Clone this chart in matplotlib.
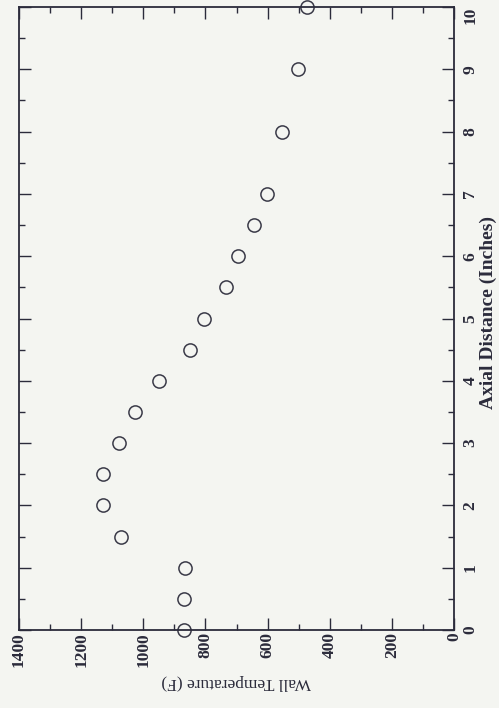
import matplotlib
matplotlib.use("Agg")
import matplotlib.pyplot as plt
from matplotlib.ticker import MultipleLocator

# axial distance (inches) and wall temperature (F)
distance = [0, 0.5, 1, 1.5, 2, 2.5, 3, 3.5, 4, 4.5, 5, 5.5, 6, 6.5, 7, 8, 9, 10]
temperature = [870, 870, 866, 1072, 1130, 1130, 1078, 1027, 949, 850,
               805, 733, 695, 644, 603, 553, 502, 473]

temp_ticks = [1400, 1200, 1000, 800, 600, 400, 200, 0]
dist_ticks = [0, 1, 2, 3, 4, 5, 6, 7, 8, 9, 10]

bg = "#f4f5f1"
ink = "#2b2b3b"

plt.rcParams['font.family'] = ['Liberation Serif', 'DejaVu Serif']

fig = plt.figure(figsize=(4.99, 7.08), dpi=100, facecolor=bg)
ax = fig.add_axes([19 / 499, 78 / 708, 435 / 499, 623 / 708])
ax.set_facecolor(bg)

# the page is turned: temperature runs right-to-left along the bottom,
# distance runs upward on the right
ax.plot(temperature, distance, linestyle='none', marker='o', markersize=9.5,
        markerfacecolor='none', markeredgecolor="#3a3a48", markeredgewidth=1.1,
        clip_on=False)

ax.set_xlim(1400, 0)
ax.set_ylim(0, 10)
ax.set_xticks(temp_ticks)
ax.set_yticks(dist_ticks)
ax.xaxis.set_minor_locator(MultipleLocator(100))
ax.yaxis.set_minor_locator(MultipleLocator(0.5))

ax.yaxis.tick_right()
ax.tick_params(which='both', direction='in', top=True, bottom=True,
               left=True, right=True, color=ink, width=1.0)
ax.tick_params(which='major', length=8.5)
ax.tick_params(which='minor', length=4.5)
ax.tick_params(axis='x', which='major', pad=1.5, labelsize=12.5,
               labelcolor=ink, labelrotation=90)
ax.tick_params(axis='y', which='major', pad=6, labelsize=12.5,
               labelcolor=ink, labelrotation=90)
for lab in ax.get_xticklabels():
    lab.set_fontweight('bold')
    lab.set_va('top')
for lab in ax.get_yticklabels():
    lab.set_fontweight('bold')
    lab.set_va('center')
# keep the top label ("10") inside the page
ax.get_yticklabels()[-1].set_va('top')

for sp in ax.spines.values():
    sp.set_color(ink)
    sp.set_linewidth(1.3)

ax.set_xlabel("Wall Temperature (F)", fontsize=12.5, color=ink, rotation=180)
ax.xaxis.set_label_coords(0.5, -0.083)
ax.xaxis.label.set_va('center')

ax.yaxis.set_label_position('right')
ax.set_ylabel("Axial Distance (Inches)", fontsize=14, fontweight='bold',
              color=ink, rotation=90)
ax.yaxis.set_label_coords(1.078, 0.51)
ax.yaxis.label.set_va('center')

fig.savefig("out.png", dpi=100, facecolor=bg)
